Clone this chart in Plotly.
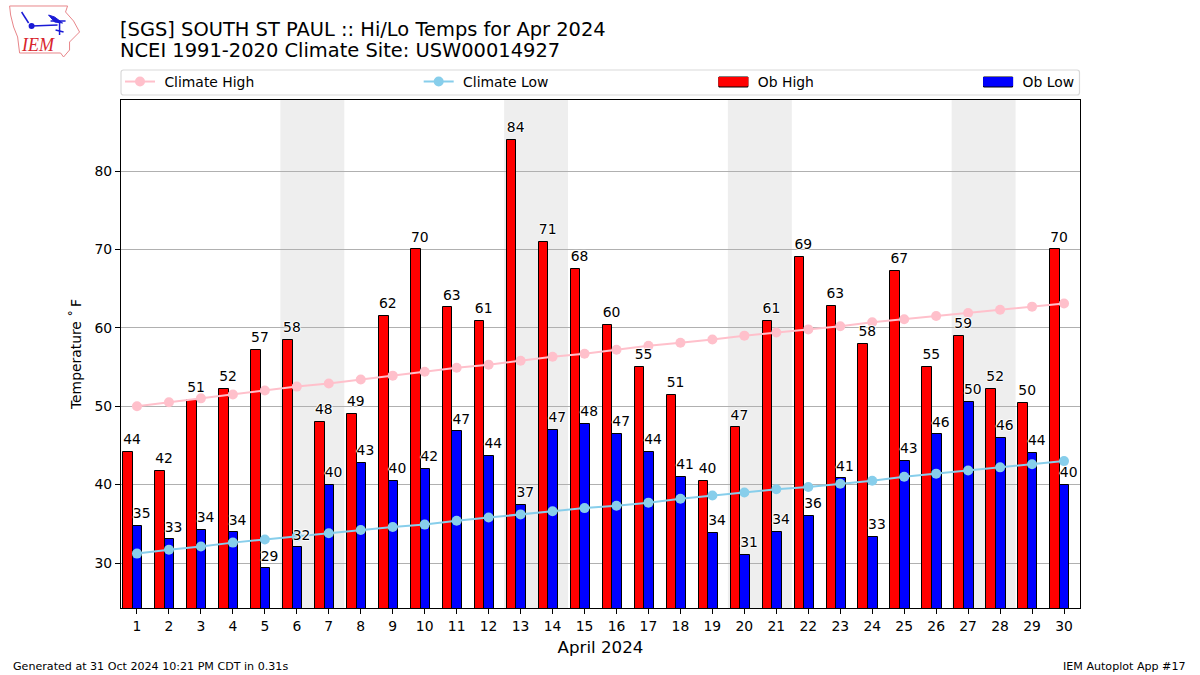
import plotly.graph_objects as go

days = list(range(1, 31))
ob_high = [44.2, 41.7, 50.8, 52.2, 57.2, 58.5, 48, 49, 61.5, 70, 62.6, 60.9, 84, 71, 67.5, 60.4, 55, 51.4, 40.5, 47.3, 60.9, 69, 62.8, 58, 67.3, 55, 59, 52.2, 50.4, 70]
ob_low = [34.7, 33, 34.2, 33.9, 29.3, 32, 40, 42.8, 40.5, 42, 46.8, 43.7, 37.4, 47, 47.7, 46.5, 44.2, 41, 33.8, 31, 34, 36, 40.8, 33.3, 43, 46.4, 50.5, 46, 44, 40]
high_labels = [44, 42, 51, 52, 57, 58, 48, 49, 62, 70, 63, 61, 84, 71, 68, 60, 55, 51, 40, 47, 61, 69, 63, 58, 67, 55, 59, 52, 50, 70]
low_labels = [35, 33, 34, 34, 29, 32, 40, 43, 40, 42, 47, 44, 37, 47, 48, 47, 44, 41, 34, 31, 34, 36, 41, 33, 43, 46, 50, 46, 44, 40]
clim_high = [50.0, 50.5, 51.0, 51.5, 52.0, 52.5, 52.9, 53.4, 53.9, 54.4, 54.9, 55.3, 55.8, 56.3, 56.7, 57.2, 57.7, 58.1, 58.5, 59.0, 59.4, 59.8, 60.2, 60.7, 61.1, 61.5, 61.9, 62.3, 62.7, 63.1]
clim_low = [31.2, 31.7, 32.1, 32.6, 33.0, 33.4, 33.8, 34.2, 34.6, 34.9, 35.4, 35.8, 36.2, 36.6, 37.0, 37.3, 37.7, 38.2, 38.6, 39.0, 39.4, 39.7, 40.1, 40.5, 41.0, 41.4, 41.8, 42.2, 42.6, 43.0]
weekend_spans = [(5.5, 7.5), (12.5, 14.5), (19.5, 21.5), (26.5, 28.5)]
y_ticks = [30, 40, 50, 60, 70, 80]

W, H = 1200, 675
L, R, T, B = 120.5, 1080.5, 100, 608
FONT = "DejaVu Sans"
HALO = "-1px 0 1px #fff, 1px 0 1px #fff, 0 -1px 1px #fff, 0 1px 1px #fff"
BAR_W, HI_OFF, LO_OFF = 0.3, -0.43, -0.13

def px(x):
    return (x - L) / (R - L)
def py(y):
    return (B - y) / (B - T)

fig = go.Figure()

fig.add_bar(x=days, y=ob_high, name="Ob High", width=BAR_W, offset=HI_OFF, showlegend=False,
            marker=dict(color="#ff0000", line=dict(color="black", width=1)))
fig.add_bar(x=days, y=ob_low, name="Ob Low", width=BAR_W, offset=LO_OFF, showlegend=False,
            marker=dict(color="#0000ff", line=dict(color="black", width=1)))
fig.add_scatter(x=days, y=clim_high, name="\u00a0Climate High", mode="lines+markers",
                line=dict(color="#ffc0cb", width=2), marker=dict(color="#ffc0cb", size=10), legend="legend")
fig.add_scatter(x=days, y=clim_low, name="\u00a0Climate Low", mode="lines+markers",
                line=dict(color="#87ceeb", width=2), marker=dict(color="#87ceeb", size=10), legend="legend2")
# legend keys for the bars: wide swatches like the reference
fig.add_scatter(x=[None], y=[None], name="\u00a0Ob High", mode="lines", line=dict(color="#ff0000", width=9), legend="legend3")
fig.add_scatter(x=[None], y=[None], name="\u00a0Ob Low", mode="lines", line=dict(color="#0000ff", width=9), legend="legend4")

for vals, labels, off in ((ob_high, high_labels, HI_OFF), (ob_low, low_labels, LO_OFF)):
    fig.add_scatter(x=[d + off for d in days], y=[v + 0.55 for v in vals], text=[str(l) for l in labels],
                    mode="text", textposition="top right", showlegend=False, hoverinfo="skip", cliponaxis=False,
                    textfont=dict(family=FONT, size=13.9, color="black", shadow=HALO))

shapes = []
for a, b in weekend_spans:
    shapes.append(dict(type="rect", xref="x", yref="paper", x0=a - 0.015, x1=b - 0.015, y0=0, y1=1,
                       fillcolor="#eeeeee", line_width=0, layer="below"))

# legend frame with rounded corners
def rounded_frame(x0, y0, x1, y1, r=2.5):
    return (f"M {px(x0 + r):.5f},{py(y0):.5f} L {px(x1 - r):.5f},{py(y0):.5f} "
            f"Q {px(x1):.5f},{py(y0):.5f} {px(x1):.5f},{py(y0 + r):.5f} "
            f"L {px(x1):.5f},{py(y1 - r):.5f} Q {px(x1):.5f},{py(y1):.5f} {px(x1 - r):.5f},{py(y1):.5f} "
            f"L {px(x0 + r):.5f},{py(y1):.5f} Q {px(x0):.5f},{py(y1):.5f} {px(x0):.5f},{py(y1 - r):.5f} "
            f"L {px(x0):.5f},{py(y0 + r):.5f} Q {px(x0):.5f},{py(y0):.5f} {px(x0 + r):.5f},{py(y0):.5f} Z")
shapes.append(dict(type="path", xref="paper", yref="paper", path=rounded_frame(120.5, 70, 1080, 95),
                   line=dict(color="#d9d9d9", width=1.2), fillcolor="white"))
# outlines behind the bar swatches
for x0, color in ((719, "#ff0000"), (984, "#0000ff")):
    shapes.append(dict(type="rect", xref="paper", yref="paper", x0=px(x0), x1=px(x0 + 29), y0=py(87), y1=py(77),
                       line=dict(color="black", width=1), fillcolor=color))

# logo outline and glyphs
def path(points, close=True):
    s = "M " + " L ".join(f"{px(x):.5f},{py(y):.5f}" for x, y in points)
    return s + (" Z" if close else "")

logo_outline = [(9, 6), (67, 6), (65, 12), (73, 21), (79, 32), (69, 42), (69, 50), (63, 57), (60, 53), (19, 53),
                (17, 37), (13, 27), (10, 15)]
shapes.append(dict(type="path", xref="paper", yref="paper", path=path(logo_outline),
                   line=dict(color="#e8868a", width=1)))
logo_blue = [
    [(31, 26), (57, 25)],
    [(21, 12), (28, 23)],
    [(50, 21), (65, 21)],
    [(59, 21), (59, 35)],
    [(55, 30), (63, 32)],
]
for seg in logo_blue:
    shapes.append(dict(type="path", xref="paper", yref="paper", path=path(seg, close=False),
                       line=dict(color="#1a1ad6", width=1.5)))
shapes.append(dict(type="path", xref="paper", yref="paper", path=path([(48, 15), (54, 17), (62, 23), (54, 22)]),
                   fillcolor="#1a1ad6", line=dict(color="#1a1ad6", width=1)))
shapes.append(dict(type="circle", xref="paper", yref="paper", x0=px(28), x1=px(34), y0=py(29), y1=py(23),
                   fillcolor="#1a1ad6", line_width=0))

annotations = [
    dict(text="NCEI 1991-2020 Climate Site: USW00014927", x=px(118.5), y=py(51), xanchor="left", yanchor="middle",
         font=dict(size=19.44, family=FONT, color="black")),
    dict(text="Generated at 31 Oct 2024 10:21 PM CDT in 0.31s", x=px(11), y=py(666), xanchor="left", yanchor="middle",
         font=dict(size=11.1, family=FONT, color="black")),
    dict(text="IEM Autoplot App #17", x=px(1188), y=py(666), xanchor="right", yanchor="middle",
         font=dict(size=11.1, family=FONT, color="black")),
    dict(text="<i>IEM</i>", x=px(37.5), y=py(45), xanchor="center", yanchor="middle",
         font=dict(size=18, family="Liberation Serif", color="#d8242c")),
]
for a in annotations:
    a.update(xref="paper", yref="paper", showarrow=False, borderpad=0)

def legend_at(x):
    return dict(x=px(x), y=py(82), xanchor="left", yanchor="middle", xref="paper", yref="paper",
                orientation="h", bgcolor="rgba(0,0,0,0)", borderwidth=0, itemwidth=30,
                font=dict(family=FONT, size=13.9, color="black"), itemclick=False, itemdoubleclick=False)

fig.update_layout(
    width=W, height=H, autosize=False,
    margin=dict(l=L, r=W - R, t=T, b=H - B, pad=0),
    paper_bgcolor="white", plot_bgcolor="white",
    font=dict(family=FONT, size=13.9, color="black"),
    barmode="overlay", bargap=0,
    title=dict(text="[SGS] SOUTH ST PAUL :: Hi/Lo Temps for Apr 2024", x=120 / W, xanchor="left",
               y=1 - 29 / H, yanchor="middle", yref="container", xref="container",
               font=dict(size=19.44, family=FONT, color="black")),
    shapes=shapes, annotations=annotations,
    legend=legend_at(119.5), legend2=legend_at(418.5), legend3=legend_at(713.5), legend4=legend_at(978.5),
    xaxis=dict(range=[0.5, 30.5], tickmode="array", tickvals=days, ticktext=[str(d) for d in days],
               ticks="outside", ticklen=5, tickwidth=1, tickcolor="black", showgrid=False, zeroline=False,
               showline=True, linecolor="black", linewidth=1, mirror=True, tickangle=0,
               title=dict(text="April 2024", font=dict(size=16.67, family=FONT), standoff=8),
               tickfont=dict(size=13.9, family=FONT)),
    yaxis=dict(range=[24.26, 89.06], tickmode="array", tickvals=y_ticks, ticks="outside", ticklen=5, tickwidth=1,
               tickcolor="black", showgrid=True, gridcolor="#b0b0b0", gridwidth=1, zeroline=False,
               showline=True, linecolor="black", linewidth=1, mirror=True,
               title=dict(text="Temperature ˚\u2009F", font=dict(size=13.9, family=FONT), standoff=9),
               tickfont=dict(size=13.9, family=FONT)),
)

fig.write_html("out.html", post_script="document.body.style.margin='0';", config={"displayModeBar": False})
